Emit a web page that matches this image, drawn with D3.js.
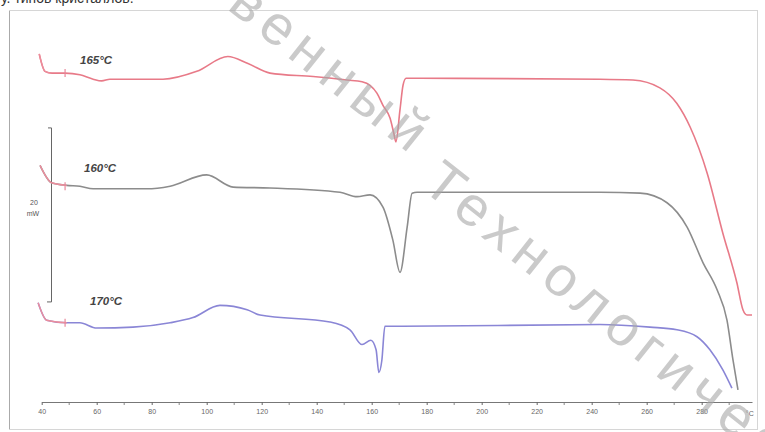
<!DOCTYPE html>
<html>
<head>
<meta charset="utf-8">
<script src="https://cdn.jsdelivr.net/npm/d3@7"></script>
<style>
  body { margin: 0; background: #fff; }
  svg { display: block; font-family: "Liberation Sans", Arial, sans-serif; }
</style>
</head>
<body>
<div id="chart"></div>
<script>
// DSC curves, [temperature °C, heat flow mW] (offset per curve as in the plot)
var curve165 = [[39.1, 40.0], [41.2, 38.0], [43.6, 37.8], [48.5, 37.8], [53.9, 37.6], [58.7, 37.1], [61.8, 36.9],
    [64.8, 37.1], [84.1, 37.1], [96.4, 38.0], [107.7, 39.7], [115.0, 38.9], [123.0, 37.8], [138.7, 37.4],
    [151.0, 37.0], [156.5, 36.8], [159.4, 36.4], [161.9, 35.5], [164.1, 34.1], [166.7, 32.6], [168.1, 30.8],
    [168.8, 29.9], [170.3, 33.6], [171.4, 36.4], [172.5, 37.2], [177.6, 37.2], [243.0, 37.1], [255.0, 37.0],
    [264.8, 36.1], [271.0, 34.3], [275.8, 31.6], [282.0, 26.3], [287.7, 19.4], [292.8, 13.7], [295.0, 10.6],
    [296.5, 10.0], [298.3, 10.0]];
var curve160 = [[39.4, 27.2], [43.6, 25.2], [49.1, 24.9], [53.9, 24.8], [58.7, 24.5], [78.2, 24.5], [86.7, 24.8],
    [100.0, 26.1], [109.6, 24.7], [123.0, 24.6], [148.5, 24.1], [154.7, 23.6], [159.4, 23.8], [164.1, 22.4],
    [167.7, 18.6], [170.3, 14.9], [172.9, 20.1], [174.7, 24.0], [176.5, 24.1], [243.0, 24.1], [257.6, 24.0],
    [267.4, 22.9], [274.7, 20.1], [280.5, 16.0], [285.6, 12.9], [289.2, 9.4], [291.4, 4.8], [293.2, 1.4]];
var curve170 = [[38.7, 11.4], [41.8, 9.4], [49.1, 9.1], [53.9, 9.1], [60.0, 8.5], [73.2, 8.6], [86.7, 9.1],
    [95.0, 9.7], [104.8, 11.1], [114.7, 10.6], [119.4, 10.0], [144.8, 9.2], [152.1, 8.3], [156.5, 6.6],
    [159.7, 7.1], [161.6, 6.0], [162.6, 3.4], [163.7, 4.8], [164.8, 8.7], [170.3, 8.7], [243.0, 8.9],
    [261.2, 8.6], [271.0, 8.3], [278.3, 7.5], [283.0, 6.0], [287.7, 3.7], [291.0, 1.6]];

var curveLabels = ["165°C", "160°C", "170°C"];
var majorTicks = [40, 60, 80, 100, 120, 140, 160, 180, 200, 220, 240, 260, 280];
var minorTicks = [50, 70, 90, 110, 130, 150, 170, 190, 210, 230, 250, 270, 290];
var markerT = 48.5;
var scaleBar = [11.5, 31.5]; // 20 mW

var width = 765, height = 432;
var svg = d3.select("#chart").append("svg")
    .attr("width", width)
    .attr("height", height);

// cut off caption line at the top
svg.append("text")
    .attr("x", 1).attr("y", 3)
    .attr("font-size", 14).attr("fill", "#333")
    .text("у. типов кристаллов.");

// frame
svg.append("rect")
    .attr("x", 9.5).attr("y", 10.5)
    .attr("width", 748).attr("height", 419)
    .attr("fill", "#fff").attr("stroke", "#d6d6d6");
svg.append("line")
    .attr("x1", 9.5).attr("x2", 9.5).attr("y1", 11).attr("y2", 429)
    .attr("stroke", "#aaa");

var x = d3.scaleLinear().domain([40, 298.3]).range([41.7, 752]);
var y = d3.scaleLinear().domain([0, 46.2]).range([402, 0]);

// x axis
var axis = svg.append("g")
    .attr("transform", "translate(0,402)")
    .call(d3.axisBottom(x).tickValues(majorTicks).tickSize(3).tickSizeOuter(0));
axis.select(".domain").attr("stroke", "#777");
axis.selectAll(".tick line").attr("stroke", "#666");
axis.selectAll(".tick text")
    .attr("font-size", 7).attr("fill", "#666").attr("dy", "0.9em")
    .attr("font-family", "Liberation Sans, Arial, sans-serif");

svg.append("g").selectAll("line")
    .data(minorTicks)
    .enter().append("line")
    .attr("x1", function(d) { return x(d); })
    .attr("x2", function(d) { return x(d); })
    .attr("y1", 403).attr("y2", 405)
    .attr("stroke", "#888");

svg.append("text")
    .attr("x", x(297.5)).attr("y", 416)
    .attr("text-anchor", "middle")
    .attr("font-size", 7).attr("fill", "#666")
    .text("°C");

// scale bar 20 mW
svg.append("path")
    .attr("d", "M48," + y(scaleBar[1]) + "H51.5V" + y(scaleBar[0]) + "H47")
    .attr("fill", "none").attr("stroke", "#666").attr("stroke-width", 1);
svg.append("text")
    .attr("x", 34).attr("y", 205)
    .attr("text-anchor", "middle").attr("font-size", 7).attr("fill", "#555")
    .text("20");
svg.append("text")
    .attr("x", 33).attr("y", 216)
    .attr("text-anchor", "middle").attr("font-size", 7).attr("fill", "#555")
    .text("mW");

var line = d3.line()
    .x(function(d) { return x(d[0]); })
    .y(function(d) { return y(d[1]); })
    .curve(d3.curveMonotoneX);

var series = [curve165, curve160, curve170];
var colors = ["#e87a88", "#8c8c8c", "#8a86d6"];

series.forEach(function(data, i) {
    svg.append("path")
        .datum(data)
        .attr("d", line)
        .attr("fill", "none")
        .attr("stroke", colors[i])
        .attr("stroke-width", 1.6);
    // pinkish start segment
    svg.append("path")
        .datum(data.slice(0, 3))
        .attr("d", line)
        .attr("fill", "none")
        .attr("stroke", "#ec8d9c")
        .attr("stroke-width", 1.4);
    // small marker
    var v = data[3][1];
    svg.append("line")
        .attr("x1", x(markerT)).attr("x2", x(markerT))
        .attr("y1", y(v) - 4).attr("y2", y(v) + 4)
        .attr("stroke", "#e8889a").attr("stroke-width", 1.2);
});

// curve labels
var labelPos = [[80, 64], [84, 172], [90, 305]];
svg.append("g").selectAll("text")
    .data(curveLabels)
    .enter().append("text")
    .attr("x", function(d, i) { return labelPos[i][0]; })
    .attr("y", function(d, i) { return labelPos[i][1]; })
    .attr("font-size", 11.5)
    .attr("font-weight", "bold")
    .attr("font-style", "italic")
    .attr("fill", "#444")
    .text(function(d) { return d; });

// watermark
var wm = svg.append("g")
    .attr("transform", "translate(420,188) rotate(38.5)")
    .attr("fill", "#a8a8a8")
    .attr("opacity", 0.6)
    .attr("font-size", 56)
    .attr("letter-spacing", 8);
wm.append("text")
    .attr("x", -22)
    .attr("y", -20)
    .attr("text-anchor", "end")
    .text("государственный");
wm.append("text")
    .attr("x", 0)
    .text("Технологический");
</script>
</body>
</html>
